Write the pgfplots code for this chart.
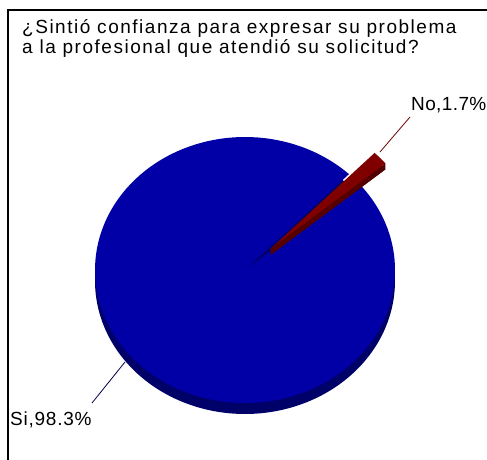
\documentclass[border=0pt]{standalone}
\usepackage{fontspec}
\setmainfont{Liberation Sans}
\usepackage{pgfplots}
\pgfplotsset{compat=1.18}
\definecolor{pieblue}{RGB}{0,0,166}
\definecolor{sideblue}{RGB}{0,0,105}
\definecolor{piered}{RGB}{128,0,0}
\definecolor{sidered}{RGB}{85,0,0}
% data
\def\vSi{98.3}
\def\vNo{1.7}
% geometry (pixel-like units)
\def\cx{245}\def\cy{190}\def\rx{150}\def\ry{133}\def\dep{11}
\pgfmathsetmacro\aStart{40}
\pgfmathsetmacro\aEnd{\aStart+3.6*\vNo}
\pgfmathsetmacro\aBlueEnd{\aEnd+3.6*\vSi}
\pgfmathsetmacro\aMid{(\aStart+\aEnd)/2}
\pgfmathsetmacro\rcx{\cx+35*cos(\aMid)}
\pgfmathsetmacro\rcy{\cy+35*sin(\aMid)*\ry/\rx}
\pgfmathsetmacro\rcyb{\rcy-6}
\pgfmathsetmacro\cyb{\cy-\dep}
\pgfmathsetmacro\tipx{\rcx+\rx*cos(\aStart)}
\pgfmathsetmacro\tipy{\rcy+\ry*sin(\aStart)}
\pgfmathsetmacro\tipyb{\tipy-6}
\begin{document}
\begin{tikzpicture}
\useasboundingbox (0,0) rectangle (487bp,460bp);
\begin{axis}[scale only axis, width=487bp, height=460bp, at={(0,0)}, anchor=south west,
  xmin=0, xmax=487, ymin=0, ymax=460, hide axis, clip=false]
% frame
\addplot[black, line width=1.6bp] coordinates {(8,0) (8,450) (487,450)};
% side of blue pie (bottom ellipse)
\addplot[fill=sideblue, draw=none, domain=0:360, samples=181]
  ({\cx+\rx*cos(x)},{\cyb+\ry*sin(x)}) -- cycle;
% blue top face
\addplot[fill=pieblue, draw=none, domain=\aEnd:\aBlueEnd, samples=181]
  ({\cx+\rx*cos(x)},{\cy+\ry*sin(x)}) -- (axis cs:\cx,\cy) -- cycle;
% red slice side
\addplot[fill=sidered, draw=none, domain=\aStart:\aEnd, samples=10]
  ({\rcx+\rx*cos(x)},{\rcyb+\ry*sin(x)}) -- (axis cs:\rcx,\rcyb) -- cycle;
\fill[sidered] (axis cs:\rcx,\rcy) -- (axis cs:\tipx,\tipy) -- (axis cs:\tipx,\tipyb) -- (axis cs:\rcx,\rcyb) -- cycle;
% red slice top
\addplot[fill=piered, draw=none, domain=\aStart:\aEnd, samples=10]
  ({\rcx+\rx*cos(x)},{\rcy+\ry*sin(x)}) -- (axis cs:\rcx,\rcy) -- cycle;
% leader lines
\addplot[piered!80!black, line width=0.8bp] coordinates {(380,308) (410,343)};
\addplot[sideblue!70!black, line width=0.8bp] coordinates {(125,98) (92,57)};
% labels
\node[anchor=base west, inner sep=0pt, font=\fontsize{19bp}{23bp}\selectfont\addfontfeature{LetterSpace=2}] at (axis cs:411,350) {No,1.7\%};
\node[anchor=base west, inner sep=0pt, font=\fontsize{19bp}{23bp}\selectfont\addfontfeature{LetterSpace=4}] at (axis cs:10,35) {Si,98.3\%};
% title
\node[anchor=base west, inner sep=0pt, font=\fontsize{19bp}{23bp}\selectfont\addfontfeature{LetterSpace=8}] at (axis cs:22,426) {¿Sintió confianza para expresar su problema};
\node[anchor=base west, inner sep=0pt, font=\fontsize{19bp}{23bp}\selectfont\addfontfeature{LetterSpace=8}] at (axis cs:22,406) {a la profesional que atendió su solicitud?};
\end{axis}
\end{tikzpicture}
\end{document}
